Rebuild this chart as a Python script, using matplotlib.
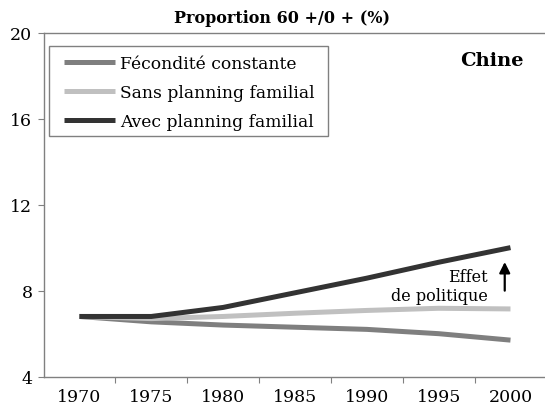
import matplotlib
matplotlib.use("Agg")
import matplotlib.pyplot as plt
from matplotlib.patches import Rectangle

years = [1970, 1975, 1980, 1985, 1990, 1995, 2000]
fecondite_constante = [6.8, 6.55, 6.4, 6.3, 6.2, 6.0, 5.7]
sans_planning = [6.8, 6.7, 6.8, 6.95, 7.08, 7.18, 7.15]
avec_planning = [6.8, 6.8, 7.22, 7.9, 8.58, 9.32, 10.0]
series_labels = ["Fécondité constante", "Sans planning familial", "Avec planning familial"]
series_colors = ["#7f7f7f", "#c0c0c0", "#333333"]
y_ticks = [4, 8, 12, 16, 20]
title = "Proportion 60 +/0 + (%)"
country = "Chine"
note = "Effet\nde politique"

plt.rcParams['font.family'] = ['DejaVu Serif']

W, H = 545, 414
fig = plt.figure(figsize=(W/100, H/100), dpi=100)
ax_l, ax_r, ax_t, ax_b = 43.5, 546.4, 33.5, 377.7
ax = fig.add_axes([ax_l/W, (H-ax_b)/H, (ax_r-ax_l)/W, (ax_b-ax_t)/H])

def axfrac(px, py):
    return (px - ax_l) / (ax_r - ax_l), (ax_b - py) / (ax_b - ax_t)

for vals, lab, col in zip([fecondite_constante, sans_planning, avec_planning], series_labels, series_colors):
    ax.plot(years, vals, color=col, lw=3.6, label=lab, solid_capstyle='butt', solid_joinstyle='miter')

ax.set_xlim(1967.5, 2002.5)
ax.set_ylim(4, 20)
ax.set_yticks(y_ticks)
ax.set_yticklabels([str(t) for t in y_ticks], fontsize=12.5)
ax.set_xticks([y + 2.5 for y in years[:-1]])
ax.set_xticklabels([])
ax.set_xticks(years, minor=True)
ax.set_xticklabels([str(y) for y in years], minor=True, fontsize=12.5)
ax.tick_params(axis='x', which='minor', length=0, pad=8)
ax.tick_params(axis='both', which='major', length=4, width=0.8, color='#808080', direction='out')
ax.tick_params(axis='y', pad=4)

for s in ['left', 'bottom', 'top']:
    ax.spines[s].set_color('#808080')
    ax.spines[s].set_linewidth(1.0)
ax.spines['right'].set_visible(False)

fig.text(282.5 / W, 1 - 18.5 / H, title, fontsize=11.5, fontweight='bold', ha='center', va='center')

# legend frame
x0, y0 = axfrac(49, 137)
x1, y1 = axfrac(328, 47)
ax.add_patch(Rectangle((x0, y0), x1 - x0, y1 - y0, transform=ax.transAxes, fill=False,
                       edgecolor='#808080', lw=1.0, zorder=5))
lx, ly = axfrac(57.2, 49)
leg = ax.legend(loc='upper left', bbox_to_anchor=(lx, ly), fontsize=12.3, frameon=False,
                handlelength=3.0, handletextpad=0.3, borderpad=0.4, labelspacing=0.7,
                borderaxespad=0)

ax.text(0.955, 0.947, country, transform=ax.transAxes, fontsize=14, fontweight='bold',
        ha='right', va='top')

ax.text(1998.4, 7.37, note, ha='right', va='bottom', fontsize=11.5, linespacing=1.15)
ax.annotate('', xy=(1999.6, 9.33), xytext=(1999.6, 8.0),
            arrowprops=dict(arrowstyle='-|>', color='black', lw=1.6, mutation_scale=16,
                            shrinkA=0, shrinkB=0))

fig.savefig('out.png', dpi=100)
